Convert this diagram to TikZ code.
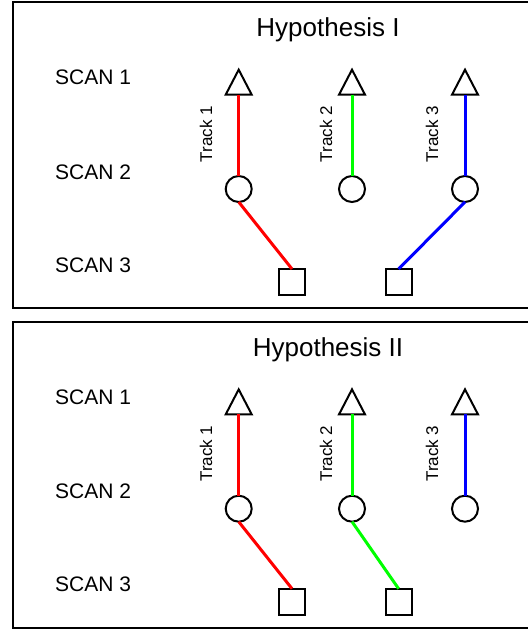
\documentclass[tikz,border=0pt]{standalone}
\usepackage{fontspec}
\setmainfont{Liberation Sans}
\usetikzlibrary{shapes.geometric}
\tikzset{
  tri/.style={draw, line width=2pt, isosceles triangle, isosceles triangle apex angle=56,
    isosceles triangle stretches, shape border rotate=90, minimum width=26pt,
    minimum height=25pt, inner sep=0pt, outer sep=0pt, fill=white},
  circ/.style={draw, line width=2pt, circle, minimum size=26pt, inner sep=0pt, outer sep=0pt, fill=white},
  sq/.style={draw, line width=2pt, rectangle, minimum size=26pt, inner sep=0pt, outer sep=0pt, fill=white},
  scanlbl/.style={anchor=base west, inner sep=0pt, font=\fontsize{21}{25}\selectfont},
  hyptitle/.style={anchor=base, inner sep=0pt, font=\fontsize{26}{30}\selectfont},
  tracklbl/.style={anchor=base, rotate=90, inner sep=0pt, font=\fontsize{17}{20}\selectfont},
  trk/.style={line width=3pt},
  panelbox/.style={draw, line width=2pt}
}
\begin{document}
\begin{tikzpicture}[x=1pt, y=-1pt]
\useasboundingbox (0,0) rectangle (527,631);
% ---------- Panel I ----------
\begin{scope}[name prefix=A-]
  \draw[panelbox] (13.3,2) rectangle (540,308.2);
  \node[hyptitle] (title) at (328,36.3) {Hypothesis I};
  \node[scanlbl] (scan1) at (55,85) {SCAN 1};
  \node[scanlbl] (scan2) at (55,179) {SCAN 2};
  \node[scanlbl] (scan3) at (55,272) {SCAN 3};
  \node[tracklbl] (trk1) at (212,134) {Track 1};
  \node[tracklbl] (trk2) at (332,134) {Track 2};
  \node[tracklbl] (trk3) at (438,134) {Track 3};
  \node[tri, anchor=south] (t1) at (238.7,94.7) {};
  \node[tri, anchor=south] (t2) at (352,94.7) {};
  \node[tri, anchor=south] (t3) at (465,94.7) {};
  \node[circ] (c1) at (238.7,189) {};
  \node[circ] (c2) at (352,189) {};
  \node[circ] (c3) at (465,189) {};
  \node[sq] (q1) at (292,282) {};
  \node[sq] (q2) at (398.6,282) {};
  \draw[trk, red] (t1.south) -- (c1.north);
  \draw[trk, red] (c1.south) -- (q1.north);
  \draw[trk, green] (t2.south) -- (c2.north);
  \draw[trk, blue] (t3.south) -- (c3.north);
  \draw[trk, blue] (c3.south) -- (q2.north);
\end{scope}
% ---------- Panel II ----------
\begin{scope}[shift={(0,319.7)}, name prefix=B-]
  \draw[panelbox] (13.3,2) rectangle (540,308.2);
  \node[hyptitle] (title) at (328,36.3) {Hypothesis II};
  \node[scanlbl] (scan1) at (55,85) {SCAN 1};
  \node[scanlbl] (scan2) at (55,179) {SCAN 2};
  \node[scanlbl] (scan3) at (55,272) {SCAN 3};
  \node[tracklbl] (trk1) at (212,134) {Track 1};
  \node[tracklbl] (trk2) at (332,134) {Track 2};
  \node[tracklbl] (trk3) at (438,134) {Track 3};
  \node[tri, anchor=south] (t1) at (238.7,94.7) {};
  \node[tri, anchor=south] (t2) at (352,94.7) {};
  \node[tri, anchor=south] (t3) at (465,94.7) {};
  \node[circ] (c1) at (238.7,189) {};
  \node[circ] (c2) at (352,189) {};
  \node[circ] (c3) at (465,189) {};
  \node[sq] (q1) at (292,282) {};
  \node[sq] (q2) at (398.6,282) {};
  \draw[trk, red] (t1.south) -- (c1.north);
  \draw[trk, red] (c1.south) -- (q1.north);
  \draw[trk, green] (t2.south) -- (c2.north);
  \draw[trk, green] (c2.south) -- (q2.north);
  \draw[trk, blue] (t3.south) -- (c3.north);
\end{scope}
\end{tikzpicture}
\end{document}
